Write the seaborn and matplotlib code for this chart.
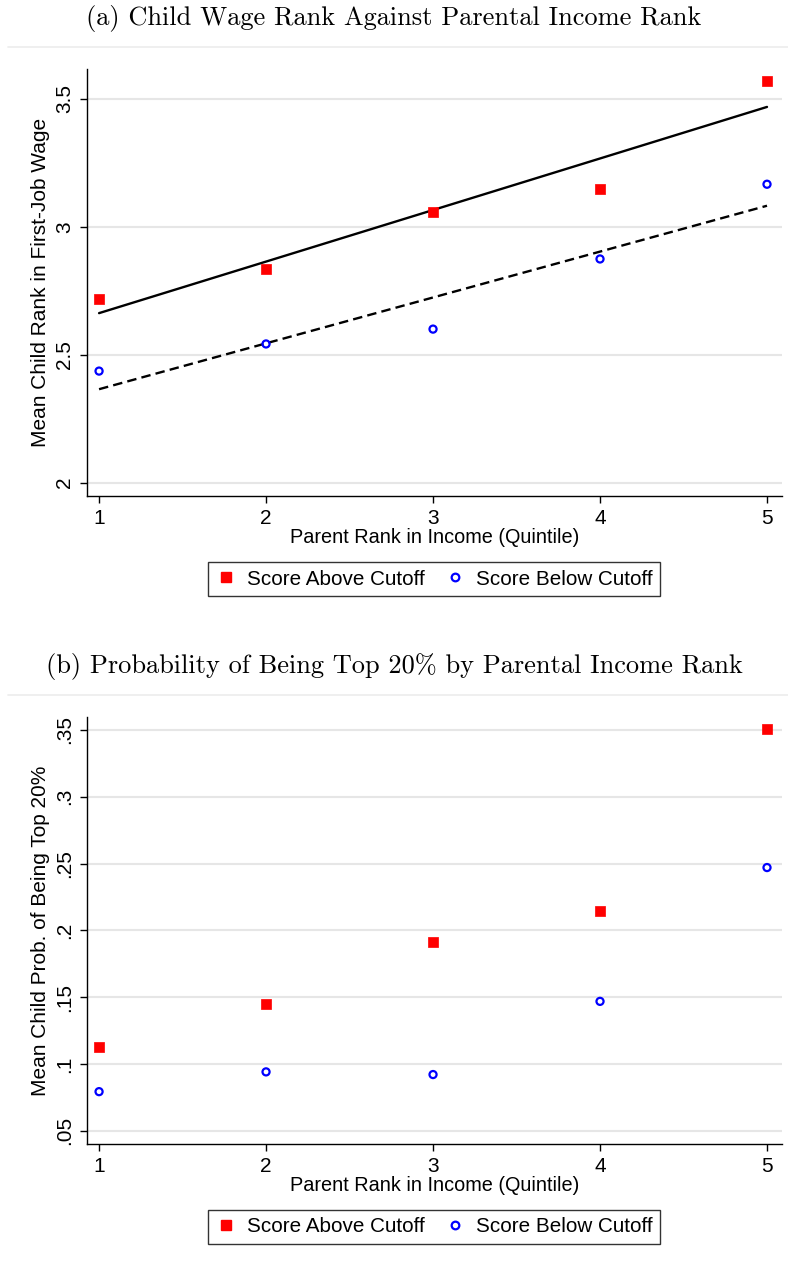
import numpy as np
import pandas as pd
import seaborn as sns
import matplotlib
matplotlib.use("Agg")
import matplotlib.pyplot as plt
from matplotlib.lines import Line2D

# ---- data ----
quintiles = [1, 2, 3, 4, 5]
wage_above = [2.718, 2.835, 3.057, 3.147, 3.569]
wage_below = [2.436, 2.542, 2.600, 2.874, 3.166]
top_above = [0.113, 0.1445, 0.191, 0.2143, 0.351]
top_below = [0.0792, 0.094, 0.092, 0.1468, 0.247]
series_labels = ["Score Above Cutoff", "Score Below Cutoff"]
title_a = "(a) Child Wage Rank Against Parental Income Rank"
title_b = "(b) Probability of Being Top 20% by Parental Income Rank"
xlabel = "Parent Rank in Income (Quintile)"
ylabel_a = "Mean Child Rank in First-Job Wage"
ylabel_b = "Mean Child Prob. of Being Top 20%"
yticks_a = [2, 2.5, 3, 3.5]
yticklabels_a = ["2", "2.5", "3", "3.5"]
yticks_b = [0.05, 0.1, 0.15, 0.2, 0.25, 0.3, 0.35]
yticklabels_b = [".05", ".1", ".15", ".2", ".25", ".3", ".35"]

sns.set_theme(style="white")
plt.rcParams["font.family"] = ["Liberation Sans", "DejaVu Sans"]
plt.rcParams["text.color"] = "black"
plt.rcParams["axes.labelcolor"] = "black"
plt.rcParams["xtick.color"] = "black"
plt.rcParams["ytick.color"] = "black"
sans = ["Liberation Sans", "DejaVu Sans"]
serif = ["cmr10", "DejaVu Serif"]

W, H = 788, 1268
fig = plt.figure(figsize=(W / 100, H / 100), dpi=100)
fig.patch.set_facecolor("white")


def px_rect(l, t, r, b):
    return [l / W, 1 - b / H, (r - l) / W, (b - t) / H]


def panel(rect, above, below, yticks, yticklabels, ylim, ylabel, fit,
          title, title_y, sep_y, legend_y):
    ax = fig.add_axes(px_rect(*rect))
    df = pd.DataFrame({
        "x": quintiles * 2,
        "y": list(above) + list(below),
        "grp": [series_labels[0]] * 5 + [series_labels[1]] * 5,
    })
    da = df[df.grp == series_labels[0]]
    db = df[df.grp == series_labels[1]]
    if fit:
        sns.regplot(data=da, x="x", y="y", scatter=False, ci=None, ax=ax,
                    truncate=True, line_kws=dict(color="black", lw=1.7))
        sns.regplot(data=db, x="x", y="y", scatter=False, ci=None, ax=ax,
                    truncate=True,
                    line_kws=dict(color="black", lw=1.7, ls=(0, (4, 2.2))))
    sns.scatterplot(data=da, x="x", y="y", marker="s", s=62, color="#ff0000",
                    edgecolor="#ff0000", linewidth=0.5, ax=ax, zorder=5)
    sns.scatterplot(data=db, x="x", y="y", marker="o", s=26,
                    facecolor="none", edgecolor="#0000ff", linewidth=1.6,
                    ax=ax, zorder=5)
    ax.set_xlim(0.926, 5.088)
    ax.set_ylim(*ylim)
    ax.set_xticks(quintiles)
    ax.set_xticklabels([str(q) for q in quintiles], fontsize=15,
                       family=sans)
    ax.set_yticks(yticks)
    ax.set_yticklabels(yticklabels, fontsize=15, rotation=90,
                       va="center", family=sans)
    ax.grid(axis="y", color="#e6e6e6", lw=1.5)
    ax.grid(axis="x", visible=False)
    ax.set_axisbelow(True)
    for s in ["top", "right"]:
        ax.spines[s].set_visible(False)
    for s in ["left", "bottom"]:
        ax.spines[s].set_color("black")
        ax.spines[s].set_linewidth(1.0)
    ax.tick_params(axis="both", direction="out", length=5, width=1,
                   color="black", pad=4, bottom=True, left=True)
    ax.set_xlabel(xlabel, fontsize=14.3, family=sans, labelpad=0.5)
    ax.set_ylabel(ylabel, fontsize=15, labelpad=4)

    fig.text(0.5, 1 - title_y / H, title, ha="center", va="center",
             fontsize=19, family=serif)
    fig.add_artist(Line2D([8 / W, 1.0], [1 - sep_y / H] * 2,
                          color="#ececec", lw=1.2))

    handles = [
        Line2D([], [], ls="none", marker="s", ms=7, color="#ff0000"),
        Line2D([], [], ls="none", marker="o", ms=5.5, mfc="none",
               mec="#0000ff", mew=1.6),
    ]
    cx = (rect[0] + rect[2]) / 2 / W
    leg = fig.legend(handles, series_labels, loc="center",
                     bbox_to_anchor=(cx, 1 - legend_y / H), ncol=2,
                     frameon=True, fancybox=False, fontsize=14.9,
                     handletextpad=0.5, columnspacing=1.0, handlelength=1.0,
                     borderpad=0.35, borderaxespad=0)
    leg.get_frame().set_edgecolor("black")
    leg.get_frame().set_linewidth(1.0)
    return ax


panel((86.7, 69.3, 781.7, 496), wage_above, wage_below, yticks_a,
      yticklabels_a, (1.948, 3.615), ylabel_a, True, title_a, 18, 47, 579)
panel((86.7, 717.3, 781.7, 1144), top_above, top_below, yticks_b,
      yticklabels_b, (0.04, 0.3595), ylabel_b, False, title_b, 667, 695,
      1227)

fig.savefig("out.png", dpi=100, facecolor="white")
